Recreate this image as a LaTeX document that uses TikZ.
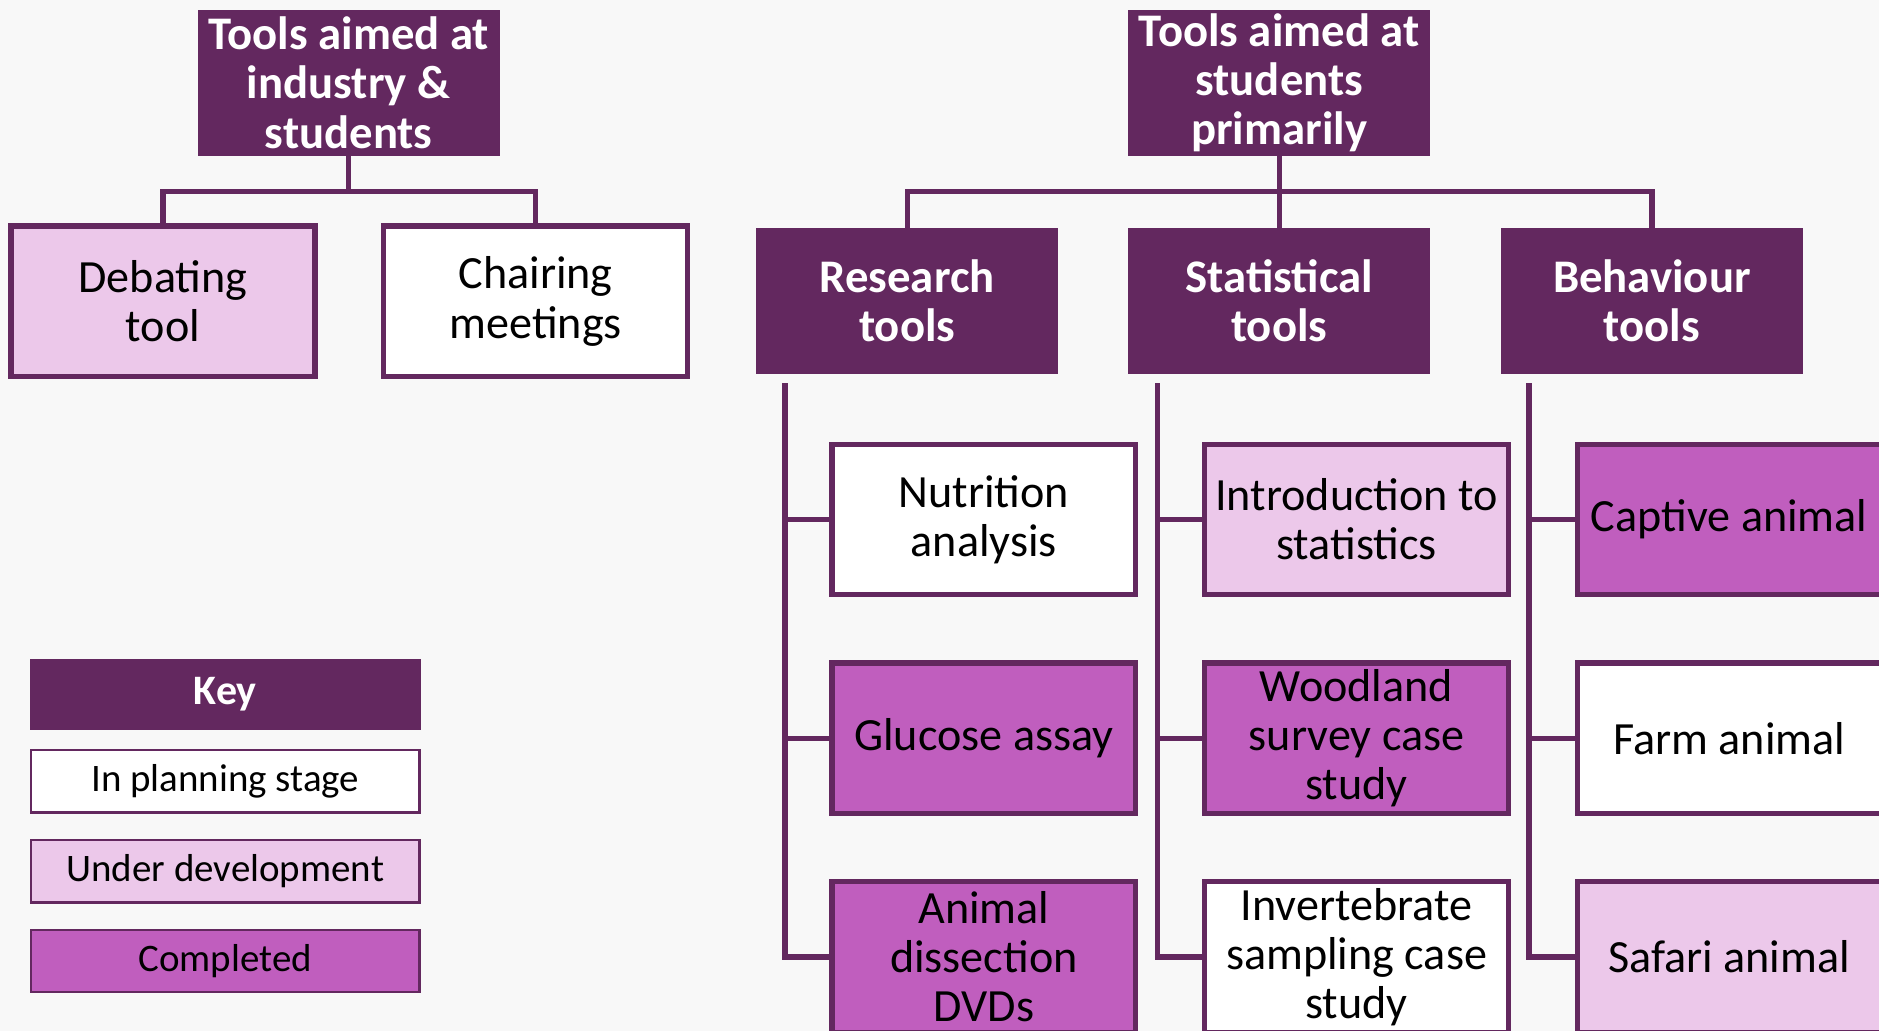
\documentclass[tikz,border=0pt]{standalone}
\usepackage{fontspec}
\setmainfont{Carlito}
\definecolor{bgc}{HTML}{F8F8F8}
\definecolor{dark}{HTML}{63285F}
\definecolor{light}{HTML}{ECC8EA}
\definecolor{mag}{HTML}{C05EBE}
\begin{document}
\begin{tikzpicture}[x=1pt,y=-1pt,
  hdr/.style={fill=dark,draw=none,minimum width=252pt,minimum height=122pt,inner sep=0pt,
    text=white,align=center,font=\fontsize{39}{41}\selectfont\bfseries},
  box/.style={draw=dark,line width=4.4pt,minimum width=253.6pt,minimum height=125.6pt,inner sep=0pt,
    align=center,font=\fontsize{38.5}{41}\selectfont},
  plan/.style={box,fill=white},
  dev/.style={box,fill=light},
  done/.style={box,fill=mag},
  keyhdr/.style={fill=dark,draw=none,minimum width=326pt,minimum height=59pt,inner sep=0pt,
    text=white,font=\fontsize{35}{37}\selectfont\bfseries},
  keybox/.style={draw=dark,line width=2pt,minimum width=324pt,minimum height=52pt,inner sep=0pt,
    font=\fontsize{32.5}{34}\selectfont},
  conn/.style={draw=dark,line width=4.4pt,line join=miter}
]
\fill[bgc] (0,0) rectangle (1568,860);
\useasboundingbox (0,0) rectangle (1568,860);
\clip (0,0) rectangle (1568,860);

% headers
\node[hdr] (hL) at (291,69) {Tools aimed at\\industry \&\\students};
\node[hdr] (hR) at (1067.5,69) {Tools aimed at\\students\\primarily};

% left children
\node[dev] (deb) at (136,251.5) {Debating\\tool};
\node[plan] (chair) at (447,251.5) {Chairing\\meetings};

% right categories
\node[hdr] (rt) at (757,251) {Research\\tools};
\node[hdr] (st) at (1067.5,251) {Statistical\\tools};
\node[hdr] (bt) at (1378.5,251) {Behaviour\\tools};

% research tools
\node[plan] (r1) at (821,433.5) {Nutrition\\analysis};
\node[done] (r2) at (821,616) {Glucose assay};
\node[done] (r3) at (821,798.5) {Animal\\dissection\\DVDs};

% statistical tools
\node[dev] (s1) at (1132,433.5) {Introduction to\\statistics};
\node[done] (s2) at (1132,616) {Woodland\\survey case\\study};
\node[plan] (s3) at (1132,798.5) {Invertebrate\\sampling case\\study};

% behaviour tools
\node[done] (b1) at (1443,433.5) {Captive animal};
\node[plan] (b2) at (1443,616) {Farm animal};
\node[dev] (b3) at (1443,798.5) {Safari animal};

% key
\node[keyhdr] (kh) at (188,579.5) {Key};
\node[keybox,fill=white] (k1) at (188,652) {In planning stage};
\node[keybox,fill=light] (k2) at (188,727) {Under development};
\node[keybox,fill=mag] (k3) at (188,802) {Completed};

% connectors
\coordinate (jL) at (291,160);
\coordinate (jR) at (1067.5,160);
\draw[conn] ([yshift=5pt]hL.south) -- (jL);
\draw[conn] ([yshift=-3pt]deb.north) |- (jL) -| ([yshift=-3pt]chair.north);
\draw[conn] ([yshift=5pt]hR.south) -- ([yshift=-6pt]st.north);
\draw[conn] ([yshift=-6pt]rt.north) |- (jR) -| ([yshift=-6pt]bt.north);

\coordinate (rv) at (655,320);
\coordinate (sv) at (966,320);
\coordinate (bv) at (1276,320);
\draw[conn] (rv) |- (r1.west);
\draw[conn] (rv) |- (r2.west);
\draw[conn] (rv) |- (r3.west);
\draw[conn] (sv) |- (s1.west);
\draw[conn] (sv) |- (s2.west);
\draw[conn] (sv) |- (s3.west);
\draw[conn] (bv) |- (b1.west);
\draw[conn] (bv) |- (b2.west);
\draw[conn] (bv) |- (b3.west);
\end{tikzpicture}
\end{document}
